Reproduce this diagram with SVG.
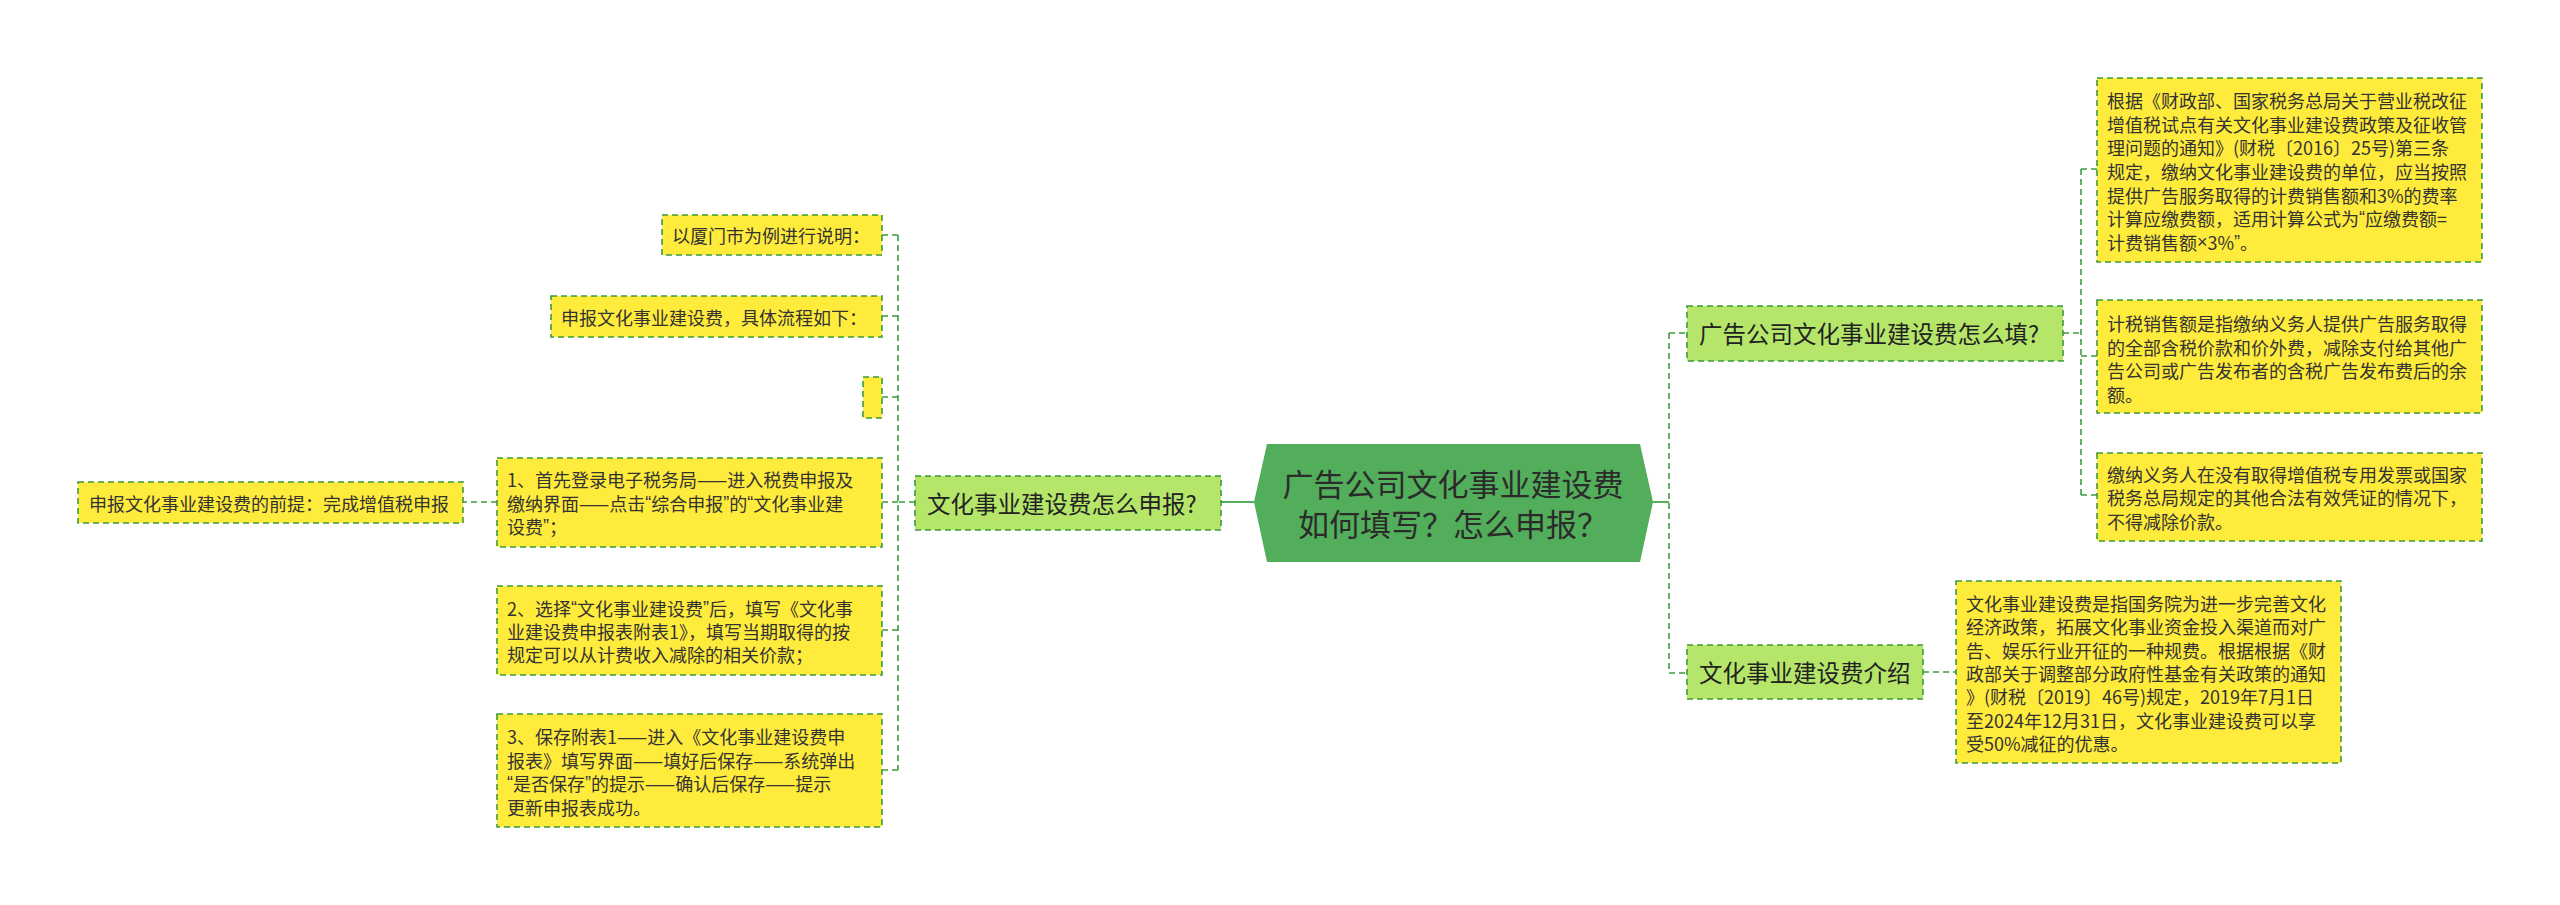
<svg xmlns="http://www.w3.org/2000/svg" width="2560" height="905" viewBox="0 0 2560 905">
<style>
text{font-family:"Noto Sans CJK SC","Noto Sans",sans-serif;dominant-baseline:central;}
.q{font-family:"Liberation Sans","Noto Sans",sans-serif;}
.leaf{fill:#ffeb3b;stroke:#3d9b3d;stroke-width:1.6;stroke-dasharray:6 4;}
.mid{fill:#b5e66a;stroke:#3d9b3d;stroke-width:1.6;stroke-dasharray:6 4;}
.root{fill:#52ae5a;}
.lt{font-size:18px;fill:#333333;}
.mt{font-size:23.5px;fill:#222222;}
.rt{font-size:31px;fill:#2b2b2b;text-anchor:middle;}
.c{fill:none;stroke:#3d9b3d;stroke-width:1.6;stroke-dasharray:6 4;}
.cs{fill:none;stroke:#52ae5a;stroke-width:2;}
</style>
<rect width="2560" height="905" fill="#ffffff"/>
<g id="connectors">
<path class="cs" d="M1221 502H1254"/>
<path class="cs" d="M1653 502H1669"/>
<path class="c" d="M1669 333V673"/>
<path class="c" d="M1669 333H1687M1669 673H1687"/>
<path class="c" d="M2063 333H2081"/>
<path class="c" d="M2081 169V495"/>
<path class="c" d="M2081 169H2097M2081 356H2097M2081 495H2097"/>
<path class="c" d="M1923 672H1956"/>
<path class="c" d="M915 502H898"/>
<path class="c" d="M898 235V770"/>
<path class="c" d="M898 235H882M898 316H882M898 397H882M898 502H882M898 630H882M898 770H882"/>
<path class="c" d="M497 502H463"/>
</g>
<g id="root">
<polygon class="root" points="1254,502 1267,444 1640,444 1653,502 1640,562 1267,562"/>
<text class="rt" x="1453" y="482">广告公司文化事业建设费</text>
<text class="rt" x="1453" y="522">如何填写？怎么申报？</text>
</g>
<g id="n-fill">
<rect class="mid" x="1687" y="306" width="376" height="55"/>
<text class="mt" x="1699" y="333">广告公司文化事业建设费怎么填?</text>
</g>
<g id="n-intro">
<rect class="mid" x="1687" y="645" width="236" height="54"/>
<text class="mt" x="1699" y="672">文化事业建设费介绍</text>
</g>
<g id="n-declare">
<rect class="mid" x="915" y="476" width="306" height="54"/>
<text class="mt" x="927" y="503">文化事业建设费怎么申报?</text>
</g>
<g id="leaf-a">
<rect class="leaf" x="2097" y="78" width="385" height="184"/>
<text class="lt" x="2107" y="100">根据《财政部、国家税务总局关于营业税改征</text>
<text class="lt" x="2107" y="123.7">增值税试点有关文化事业建设费政策及征收管</text>
<text class="lt" x="2107" y="147.3">理问题的通知》(财税〔2016〕25号)第三条</text>
<text class="lt" x="2107" y="171">规定，缴纳文化事业建设费的单位，应当按照</text>
<text class="lt" x="2107" y="194.7">提供广告服务取得的计费销售额和3%的费率</text>
<text class="lt" x="2107" y="218.3">计算应缴费额，适用计算公式为<tspan class="q">“</tspan>应缴费额=</text>
<text class="lt" x="2107" y="242">计费销售额<tspan class="q">×</tspan>3%<tspan class="q">”</tspan>。</text>
</g>
<g id="leaf-b">
<rect class="leaf" x="2097" y="300" width="385" height="113"/>
<text class="lt" x="2107" y="323">计税销售额是指缴纳义务人提供广告服务取得</text>
<text class="lt" x="2107" y="346.5">的全部含税价款和价外费，减除支付给其他广</text>
<text class="lt" x="2107" y="370">告公司或广告发布者的含税广告发布费后的余</text>
<text class="lt" x="2107" y="393.5">额。</text>
</g>
<g id="leaf-c">
<rect class="leaf" x="2097" y="453" width="385" height="88"/>
<text class="lt" x="2107" y="473.5">缴纳义务人在没有取得增值税专用发票或国家</text>
<text class="lt" x="2107" y="497">税务总局规定的其他合法有效凭证的情况下，</text>
<text class="lt" x="2107" y="520.5">不得减除价款。</text>
</g>
<g id="leaf-d">
<rect class="leaf" x="1956" y="581" width="385" height="182"/>
<text class="lt" x="1966" y="603">文化事业建设费是指国务院为进一步完善文化</text>
<text class="lt" x="1966" y="626.3">经济政策，拓展文化事业资金投入渠道而对广</text>
<text class="lt" x="1966" y="649.7">告、娱乐行业开征的一种规费。根据根据《财</text>
<text class="lt" x="1966" y="673">政部关于调整部分政府性基金有关政策的通知</text>
<text class="lt" x="1966" y="696.3">》(财税〔2019〕46号)规定，2019年7月1日</text>
<text class="lt" x="1966" y="719.7">至2024年12月31日，文化事业建设费可以享</text>
<text class="lt" x="1966" y="743">受50%减征的优惠。</text>
</g>
<g id="leaf-xiamen">
<rect class="leaf" x="662" y="215" width="220" height="40"/>
<text class="lt" x="672" y="235">以厦门市为例进行说明：</text>
</g>
<g id="leaf-flow">
<rect class="leaf" x="551" y="296" width="331" height="41"/>
<text class="lt" x="561" y="316.5">申报文化事业建设费，具体流程如下：</text>
</g>
<g id="leaf-empty">
<rect class="leaf" x="863" y="377" width="19" height="41"/>
</g>
<g id="leaf-step1">
<rect class="leaf" x="497" y="458" width="385" height="89"/>
<text class="lt" x="507" y="479">1、首先登录电子税务局——进入税费申报及</text>
<text class="lt" x="507" y="502.5">缴纳界面——点击<tspan class="q">“</tspan>综合申报<tspan class="q">”</tspan>的<tspan class="q">“</tspan>文化事业建</text>
<text class="lt" x="507" y="526">设费<tspan class="q">”</tspan>；</text>
</g>
<g id="leaf-step2">
<rect class="leaf" x="497" y="586" width="385" height="89"/>
<text class="lt" x="507" y="608">2、选择<tspan class="q">“</tspan>文化事业建设费<tspan class="q">”</tspan>后，填写《文化事</text>
<text class="lt" x="507" y="631">业建设费申报表附表1》，填写当期取得的按</text>
<text class="lt" x="507" y="654">规定可以从计费收入减除的相关价款；</text>
</g>
<g id="leaf-step3">
<rect class="leaf" x="497" y="714" width="385" height="113"/>
<text class="lt" x="507" y="736">3、保存附表1——进入《文化事业建设费申</text>
<text class="lt" x="507" y="759.5">报表》填写界面——填好后保存——系统弹出</text>
<text class="lt" x="507" y="783"><tspan class="q">“</tspan>是否保存<tspan class="q">”</tspan>的提示——确认后保存——提示</text>
<text class="lt" x="507" y="806.5">更新申报表成功。</text>
</g>
<g id="leaf-prereq">
<rect class="leaf" x="78" y="482" width="385" height="41"/>
<text class="lt" x="89" y="502.5">申报文化事业建设费的前提：完成增值税申报</text>
</g>
</svg>
